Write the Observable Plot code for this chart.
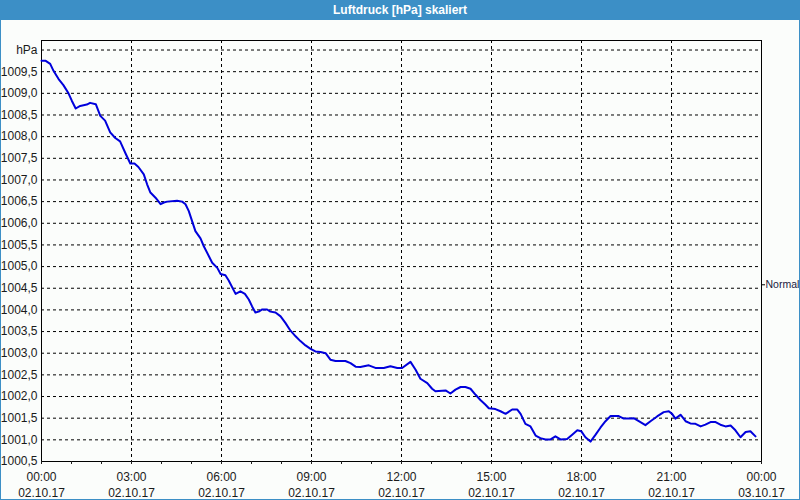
<!DOCTYPE html>
<html><head><meta charset="utf-8">
<script src="https://cdn.jsdelivr.net/npm/d3@7"></script>
<script src="https://cdn.jsdelivr.net/npm/@observablehq/plot@0.6"></script>
<style>
html,body{margin:0;padding:0;background:#fff;}
#wrap{position:relative;width:800px;height:500px;background:#fbfdfb;overflow:hidden;font-family:"Liberation Sans",Arial,sans-serif;}
#title{position:absolute;left:0;top:0;width:800px;height:20px;background:#3c8fc6;color:#fff;font-weight:bold;font-size:12px;line-height:20px;text-align:center;}
#chart{position:absolute;left:0;top:20px;}
#border{position:absolute;left:0;top:0;width:798px;height:498px;border:1px solid #3c8fc6;pointer-events:none;}
</style></head><body>
<div id="wrap"><div id="title">Luftdruck [hPa] skaliert</div><div id="chart"></div><div id="border"></div></div>
<script>
const hours = [0.0,0.14,0.29,0.4,0.57,0.73,0.9,1.01,1.14,1.29,1.51,1.62,1.81,1.96,2.12,2.29,2.46,2.62,2.81,2.96,3.1,3.23,3.41,3.52,3.63,3.8,3.97,4.08,4.19,4.52,4.69,4.8,4.91,5.02,5.13,5.3,5.41,5.58,5.69,5.86,5.97,6.13,6.24,6.47,6.63,6.78,6.91,7.02,7.13,7.24,7.36,7.52,7.63,7.8,7.97,8.13,8.3,8.47,8.63,8.8,8.97,9.13,9.3,9.47,9.63,9.8,10.13,10.3,10.47,10.63,10.91,11.13,11.41,11.63,11.86,12.02,12.3,12.47,12.63,12.86,13.02,13.13,13.47,13.63,13.8,13.97,14.13,14.3,14.47,14.63,14.8,14.91,15.13,15.3,15.47,15.69,15.86,15.97,16.13,16.3,16.47,16.63,16.8,16.97,17.13,17.3,17.52,17.69,17.86,17.99,18.13,18.3,18.47,18.63,18.8,18.97,19.24,19.41,19.58,19.74,19.91,20.13,20.3,20.52,20.74,20.91,21.02,21.13,21.3,21.47,21.63,21.8,21.97,22.13,22.3,22.47,22.63,22.8,22.97,23.13,23.3,23.47,23.63,23.8];
const hPa = [1009.75,1009.75,1009.68,1009.52,1009.33,1009.19,1009.0,1008.83,1008.65,1008.71,1008.74,1008.78,1008.75,1008.48,1008.37,1008.1,1007.97,1007.89,1007.6,1007.38,1007.38,1007.3,1007.13,1006.9,1006.71,1006.59,1006.44,1006.48,1006.5,1006.52,1006.5,1006.44,1006.28,1006.05,1005.82,1005.65,1005.47,1005.24,1005.09,1004.97,1004.83,1004.8,1004.68,1004.37,1004.43,1004.37,1004.24,1004.08,1003.94,1003.96,1004.01,1004.01,1003.96,1003.94,1003.85,1003.7,1003.52,1003.39,1003.28,1003.18,1003.1,1003.04,1003.03,1003.0,1002.85,1002.82,1002.82,1002.77,1002.69,1002.68,1002.72,1002.66,1002.66,1002.7,1002.66,1002.66,1002.8,1002.62,1002.41,1002.31,1002.18,1002.12,1002.14,1002.07,1002.16,1002.22,1002.22,1002.18,1002.04,1001.92,1001.81,1001.73,1001.71,1001.66,1001.6,1001.7,1001.7,1001.6,1001.37,1001.31,1001.1,1001.04,1001.01,1001.01,1001.08,1001.01,1001.02,1001.12,1001.22,1001.2,1001.06,1000.96,1001.12,1001.28,1001.43,1001.55,1001.55,1001.49,1001.49,1001.5,1001.43,1001.34,1001.43,1001.54,1001.64,1001.66,1001.6,1001.49,1001.58,1001.43,1001.38,1001.37,1001.31,1001.35,1001.41,1001.41,1001.35,1001.31,1001.33,1001.22,1001.06,1001.18,1001.2,1001.08];
const yTicks = [1000.5,1001.0,1001.5,1002.0,1002.5,1003.0,1003.5,1004.0,1004.5,1005.0,1005.5,1006.0,1006.5,1007.0,1007.5,1008.0,1008.5,1009.0,1009.5,1010.0];
const unitLabel = "hPa";
const xTicks = [0,3,6,9,12,15,18,21,24];
const timeLabels = ["00:00","03:00","06:00","09:00","12:00","15:00","18:00","21:00","00:00"];
const dateLabels = ["02.10.17","02.10.17","02.10.17","02.10.17","02.10.17","02.10.17","02.10.17","02.10.17","03.10.17"];
const minorTicks = [0,1,2,3,4,5,6,7,8,9,10,11,12,13,14,15,16,17,18,19,20,21,22,23,24];
const normalLevel = 1004.58;
const normalLabel = "Normal";

const data = hours.map((h, i) => ({h, v: hPa[i]}));
const fmt = d => d === 1010 ? unitLabel : d.toFixed(1).replace(".", ",");

const plot = Plot.plot({
  width: 800, height: 480,
  marginTop: 20, marginBottom: 39, marginLeft: 41, marginRight: 39,
  style: {background: "transparent", fontFamily: "'Liberation Sans', Arial, sans-serif", fontSize: "12px", color: "#1a1a1a", overflow: "visible"},
  x: {domain: [0, 24]},
  y: {domain: [1000.5, 1010.22]},
  marks: [
    Plot.ruleY(yTicks.filter(v => v > 1000.5), {stroke: "#000", strokeDasharray: "3,3", strokeWidth: 1, strokeOpacity: 1}),
    Plot.ruleX(xTicks.filter(h => h > 0 && h < 24), {stroke: "#000", strokeDasharray: "3,3", strokeWidth: 1, strokeOpacity: 1}),
    Plot.frame({stroke: "#000", strokeWidth: 1}),
    Plot.axisY(yTicks, {tickSize: 0, tickPadding: 4, tickFormat: fmt, label: null}),
    Plot.axisY([normalLevel], {anchor: "right", tickSize: 3, tickPadding: 1, fontSize: 10.5, tickFormat: () => normalLabel, label: null, stroke: "#000", strokeOpacity: 1, textStroke: "none", fill: "#1a1a40"}),
    Plot.axisX(minorTicks, {tickSize: 3, tickFormat: () => "", label: null, strokeOpacity: 1}),
    Plot.axisX(xTicks, {tickSize: 3, tickPadding: 5, lineHeight: 1.33, tickFormat: (h, i) => timeLabels[i] + "\n" + dateLabels[i], label: null, strokeOpacity: 1}),
    Plot.line(data, {x: "h", y: "v", stroke: "#0000dc", strokeWidth: 2})
  ]
});
document.getElementById("chart").appendChild(plot);
</script>
</body></html>
